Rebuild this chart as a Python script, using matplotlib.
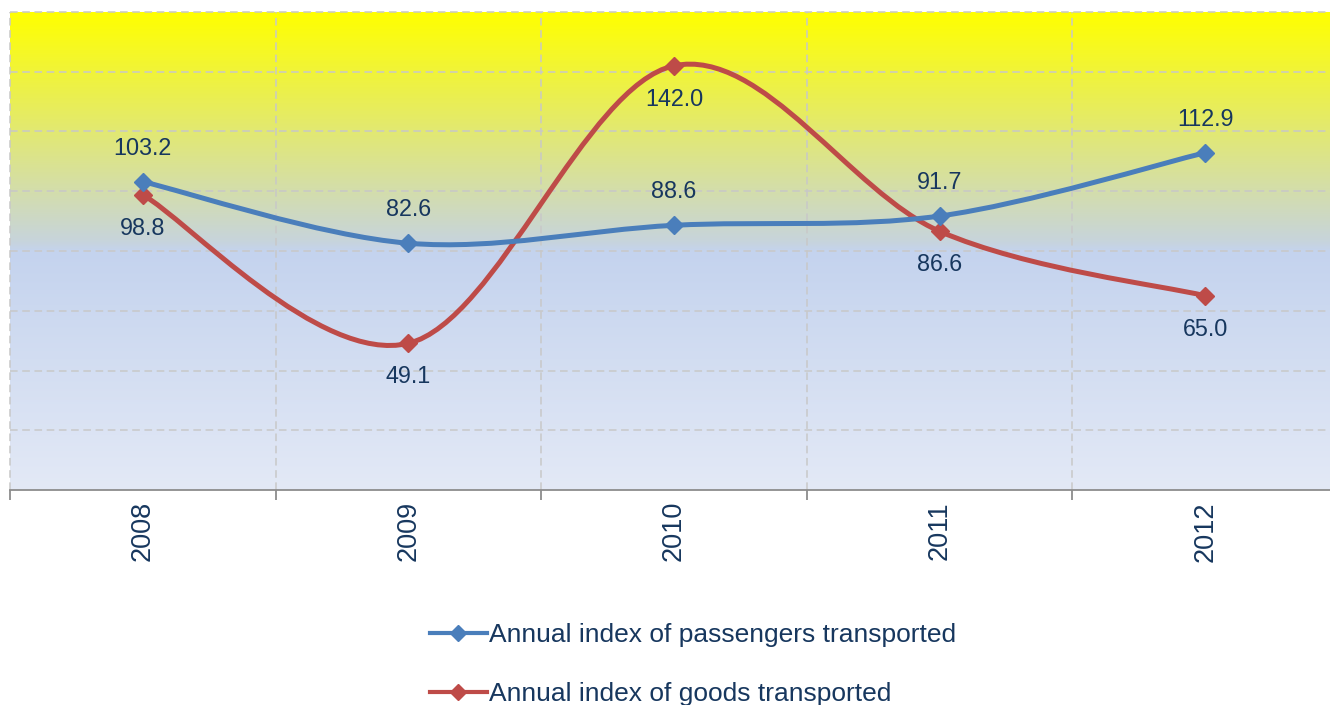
import numpy as np
import matplotlib
matplotlib.use("Agg")
import matplotlib.pyplot as plt
from matplotlib.path import Path
from matplotlib.patches import PathPatch
from matplotlib.lines import Line2D
from matplotlib.colors import LinearSegmentedColormap

years = ["2008", "2009", "2010", "2011", "2012"]
passengers = [103.2, 82.6, 88.6, 91.7, 112.9]
goods = [98.8, 49.1, 142.0, 86.6, 65.0]
series_names = ["Annual index of passengers transported", "Annual index of goods transported"]

BLUE = "#4A7EBB"
RED = "#BE4B48"
TEXT = "#17375E"
GRID = "#C8C8C8"

plt.rcParams["font.family"] = ["Liberation Sans", "DejaVu Sans"]


def smooth_path(xs, ys):
    # excel-like smoothing: catmull-rom converted to cubic bezier segments
    xs = np.asarray(xs, float)
    ys = np.asarray(ys, float)
    n = len(xs)
    verts = [(xs[0], ys[0])]
    codes = [Path.MOVETO]
    for i in range(n - 1):
        p0 = (xs[max(i - 1, 0)], ys[max(i - 1, 0)])
        p1 = (xs[i], ys[i])
        p2 = (xs[i + 1], ys[i + 1])
        p3 = (xs[min(i + 2, n - 1)], ys[min(i + 2, n - 1)])
        c1 = (p1[0] + (p2[0] - p0[0]) / 6, p1[1] + (p2[1] - p0[1]) / 6)
        c2 = (p2[0] - (p3[0] - p1[0]) / 6, p2[1] - (p3[1] - p1[1]) / 6)
        verts += [c1, c2, p2]
        codes += [Path.CURVE4] * 3
    return Path(verts, codes)


fig = plt.figure(figsize=(13.3, 7.05), dpi=100)
ax = fig.add_axes([10 / 1330, 215 / 705, 1328 / 1330, 478 / 705])

# gradient background
cmap = LinearSegmentedColormap.from_list(
    "bg", [(0.0, "#E3E9F6"), (0.5, "#C4D3EE"), (0.52, "#C7D4DC"), (1.0, "#FFFF00")])
grad = np.linspace(0, 1, 256).reshape(-1, 1)
ax.imshow(grad, extent=[0, 1, 0, 1], transform=ax.transAxes, origin="lower",
          aspect="auto", cmap=cmap, zorder=0)

x = np.arange(len(years))
ax.set_xlim(-0.5, len(years) - 0.5)
ax.set_ylim(0, 160)

ax.set_yticks(np.arange(0, 161, 20))
ax.set_yticklabels([])
ax.tick_params(axis="y", length=0)
for yv in np.arange(20, 161, 20):
    ax.axhline(yv, color=GRID, lw=1.1, ls=(0, (5, 3)), zorder=1, clip_on=False)
for xv in np.arange(-0.5, len(years), 1.0):
    ax.axvline(xv, color=GRID, lw=1.1, ls=(0, (5, 3)), zorder=1, clip_on=False)

for s in ["top", "right", "left"]:
    ax.spines[s].set_visible(False)
ax.spines["bottom"].set_color("#8C8C8C")
ax.spines["bottom"].set_linewidth(1.3)

ax.set_xticks(x)
ax.set_xticklabels(years, rotation=90, fontsize=19.5, color=TEXT)
ax.tick_params(axis="x", which="major", length=0, pad=8)
ax.set_xticks(np.arange(-0.5, len(years), 1.0), minor=True)
ax.tick_params(axis="x", which="minor", length=7, width=1.3, color="#8C8C8C", direction="out")

for vals, col, off in [(goods, RED, -24), (passengers, BLUE, 24)]:
    ax.add_patch(PathPatch(smooth_path(x, vals), fill=False, edgecolor=col, lw=3.6,
                           capstyle="round", zorder=3))
    ax.plot(x, vals, ls="none", marker="D", ms=9.5, color=col, zorder=4)
    for xi, v in zip(x, vals):
        ax.annotate(f"{v:.1f}", (xi, v), xytext=(0, off), textcoords="offset points",
                    ha="center", va="center", fontsize=16.8, color=TEXT, zorder=5)

handles = [Line2D([], [], color=BLUE, lw=3, marker="D", ms=8),
           Line2D([], [], color=RED, lw=3, marker="D", ms=8)]
fig.legend(handles, series_names, loc="upper left", bbox_to_anchor=(430 / 1330, 1 - 623 / 705),
           frameon=False, fontsize=19, handlelength=2.15, handletextpad=0.1,
           labelspacing=1.32, labelcolor=TEXT, borderpad=0, borderaxespad=0)

fig.savefig("out.png", dpi=100)
